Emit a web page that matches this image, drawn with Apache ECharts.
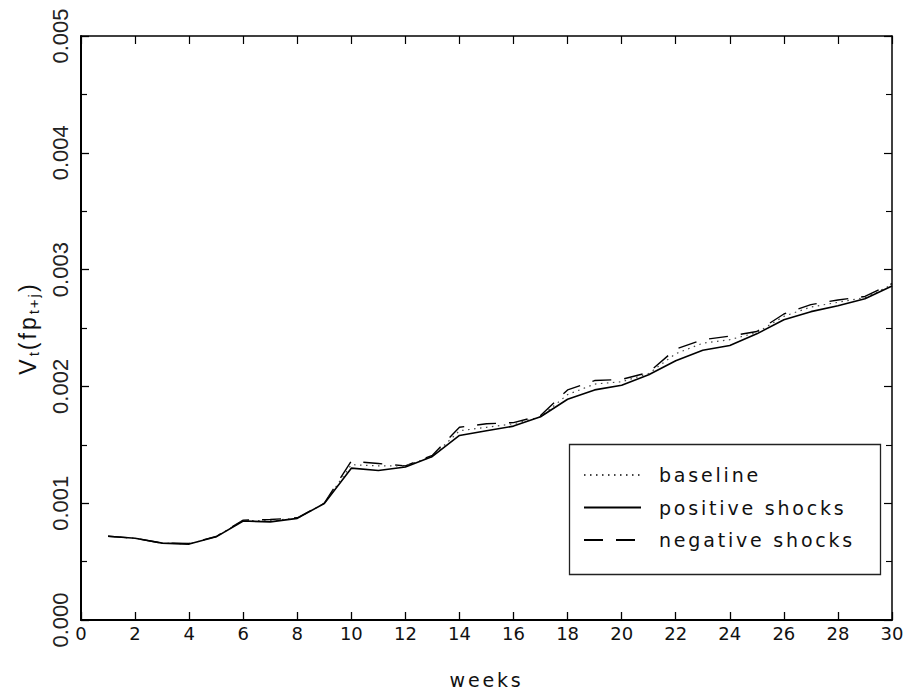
<!DOCTYPE html>
<html>
<head>
<meta charset="utf-8">
<script src="https://cdn.jsdelivr.net/npm/echarts@6/dist/echarts.min.js"></script>
<style>
html,body{margin:0;padding:0;background:#fff;}
#c{width:910px;height:694px;}
</style>
</head>
<body>
<div id="c"></div>
<script>
// ---- data ----
const weeks = [1,2,3,4,5,6,7,8,9,10,11,12,13,14,15,16,17,18,19,20,21,22,23,24,25,26,27,28,29,30];
const baseline = [0.000717,0.000700,0.000658,0.000652,0.000713,0.000852,0.000850,0.000872,0.000999,0.00133,0.00132,0.00132,0.00140,0.00162,0.00165,0.00168,0.00174,0.00193,0.00202,0.00204,0.00211,0.00228,0.00237,0.00240,0.00246,0.00260,0.00268,0.00272,0.00276,0.00287];
const positiveShocks = [0.000717,0.000700,0.000658,0.000650,0.000712,0.000848,0.000840,0.000870,0.000998,0.00130,0.00128,0.00131,0.00140,0.00158,0.00162,0.00166,0.00174,0.00189,0.00197,0.00201,0.00210,0.00222,0.00231,0.00235,0.00245,0.00257,0.00264,0.00269,0.00275,0.00286];
const negativeShocks = [0.000717,0.000700,0.000658,0.000655,0.000715,0.000855,0.000860,0.000875,0.001000,0.00136,0.00134,0.00132,0.00141,0.00165,0.00168,0.00169,0.00175,0.00197,0.00205,0.00206,0.00212,0.00232,0.00240,0.00243,0.00247,0.00262,0.00270,0.00274,0.00277,0.00288];
const seriesNames = ['baseline','positive shocks','negative shocks'];
const xTickLabels = ['0','2','4','6','8','10','12','14','16','18','20','22','24','26','28','30'];
const yTickLabels = ['0.000','0.001','0.002','0.003','0.004','0.005'];
const xAxisTitle = 'weeks';

const chart = echarts.init(document.getElementById('c'), null, {renderer:'svg', width:910, height:694});

const pairs = arr => weeks.map((w,i)=>[w, arr[i]]);
const black = '#111';
const tickFont = "'DejaVu Sans'";
const yFont = "'Liberation Sans'";

const option = {
  animation:false,
  backgroundColor:'#fff',
  grid:{left:81,right:18,top:36,bottom:72,containLabel:false},
  legend:{
    orient:'vertical', left:583, top:465, padding:0,
    itemWidth:57, itemHeight:14, itemGap:12.5,
    data:seriesNames,
    itemStyle:{opacity:0},
    textStyle:{fontFamily:tickFont,fontSize:19,color:black,lineHeight:20,padding:[0,0,0,13]}
  },
  graphic:[{
    type:'rect', left:567, top:442, silent:true,
    shape:{width:311,height:130},
    style:{fill:'none',stroke:'#222',lineWidth:1.3}
  }],
  xAxis:[{
    type:'value', min:0, max:30, interval:2, position:'bottom',
    name:xAxisTitle, nameLocation:'middle', nameGap:50,
    nameTextStyle:{fontFamily:tickFont,fontSize:19,color:black},
    axisLine:{show:true,onZero:false,lineStyle:{color:'#000',width:2}},
    axisTick:{show:true,inside:true,length:8,lineStyle:{color:'#000',width:1.3}},
    axisLabel:{margin:4,fontFamily:tickFont,fontSize:18,color:black,
      formatter:v=>{const i=Math.round(v/2);return xTickLabels[i]!==undefined?xTickLabels[i]:'';}},
    splitLine:{show:false}
  },{
    type:'value', min:0, max:30, interval:2, position:'top',
    axisLine:{show:true,onZero:false,lineStyle:{color:'#000',width:1.5}},
    axisTick:{show:true,inside:true,length:8,lineStyle:{color:'#000',width:1.2}},
    axisLabel:{show:false}, splitLine:{show:false}
  }],
  yAxis:[{
    type:'value', min:0, max:0.005, interval:0.001, position:'left',
    name:'{m|V}{s|t}{m|(}{m|f}{m|p}{s|t}{s|+}{s|j}{m|)}',
    nameLocation:'middle', nameGap:36,
    nameTextStyle:{
      color:black,
      rich:{
        m:{fontFamily:yFont,fontSize:23,color:black,padding:[0,3,0,0]},
        s:{fontFamily:yFont,fontSize:15,color:black,padding:[12,2,0,0]}
      }
    },
    axisLine:{show:true,onZero:false,lineStyle:{color:'#000',width:2}},
    axisTick:{show:true,inside:true,length:8,lineStyle:{color:'#000',width:1.3}},
    minorTick:{show:true,splitNumber:2,length:6,lineStyle:{color:'#000',width:1.2}},
    axisLabel:{rotate:90,margin:10,fontFamily:yFont,fontSize:22,color:'#222',
      formatter:v=>{const i=Math.round(v/0.001);return yTickLabels[i]!==undefined?yTickLabels[i]:'';}},
    splitLine:{show:false}
  },{
    type:'value', min:0, max:0.005, interval:0.001, position:'right',
    axisLine:{show:true,onZero:false,lineStyle:{color:'#000',width:1.5}},
    axisTick:{show:true,inside:true,length:8,lineStyle:{color:'#000',width:1.2}},
    minorTick:{show:true,splitNumber:2,length:6,lineStyle:{color:'#000',width:1.1}},
    axisLabel:{show:false}, splitLine:{show:false}
  }],
  series:[
    {name:seriesNames[0], type:'line', data:pairs(baseline), symbol:'none',
      lineStyle:{color:'#444',width:1.2,type:[1.5,4.5]}, itemStyle:{color:'#444'}, z:3},
    {name:seriesNames[1], type:'line', data:pairs(positiveShocks), symbol:'none',
      lineStyle:{color:'#000',width:1.6,type:'solid'}, itemStyle:{color:'#000'}, z:4},
    {name:seriesNames[2], type:'line', data:pairs(negativeShocks), symbol:'none',
      lineStyle:{color:'#000',width:1.4,type:[19,13]}, itemStyle:{color:'#000'}, z:2}
  ]
};
chart.setOption(option);

function applySpacing(){
  document.querySelectorAll('#c svg text').forEach(t=>{
    const s = t.textContent;
    if (/^[0-9.]+$/.test(s)) t.style.letterSpacing = '0px';
    else if (s.length > 1) t.style.letterSpacing = '2.8px';
  });
}
applySpacing();
chart.on('finished', applySpacing);
</script>
</body>
</html>
